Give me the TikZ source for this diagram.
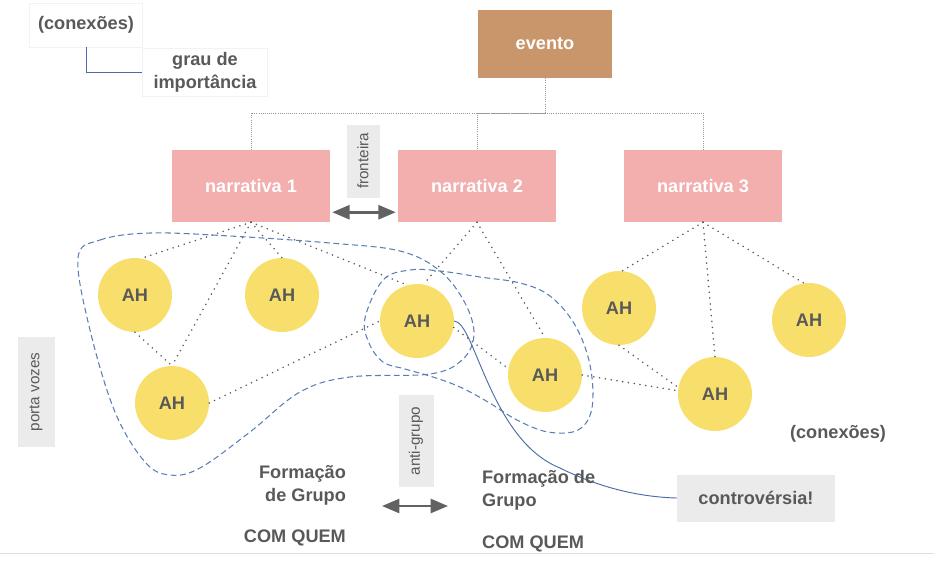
\documentclass[tikz,border=0pt]{standalone}
\usepackage{fontspec}
\setmainfont{Liberation Sans}
\usetikzlibrary{arrows.meta,calc}

\definecolor{eventbrown}{HTML}{C9956A}
\definecolor{narrpink}{HTML}{F3AEAE}
\definecolor{ahyellow}{HTML}{F8DF6C}
\definecolor{labelgray}{HTML}{EBEBEB}
\definecolor{textgray}{HTML}{595959}
\definecolor{arrowgray}{HTML}{626262}
\definecolor{groupblue}{HTML}{5A7DB5}
\definecolor{linkblue}{HTML}{4A6DA7}

\begin{document}
\begin{tikzpicture}[x=0.3mm,y=-0.3mm,
    every node/.style={font=\fontsize{15.5}{19.5}\selectfont\bfseries, text=textgray},
    narr/.style={fill=narrpink, text=white, minimum width=4.74cm, minimum height=2.16cm},
    ah/.style={circle, fill=ahyellow, minimum size=2.22cm, inner sep=0pt},
    sidelabel/.style={fill=labelgray, rotate=90, inner sep=2pt,
        font=\fontsize{13}{15}\selectfont},
    keybox/.style={draw=black!5, fill=white, align=center},
    tree/.style={black!40, line width=0.6pt, dash pattern=on 0.6pt off 1.2pt},
    conn/.style={black!65, line width=1.5pt, dash pattern=on 0pt off 5pt, line cap=round},
    group/.style={groupblue, line width=0.9pt, dash pattern=on 5pt off 3pt},
    bigarrow/.style={arrowgray, line width=2.2pt, {Triangle[length=5.2mm,width=4.2mm]}-{Triangle[length=5.2mm,width=4.2mm]}}
]
    \useasboundingbox (0,0) rectangle (934,560);

    % Legend
    \node[keybox, minimum width=3.39cm, minimum height=1.32cm] (leg1) at (86,25) {(conexões)};
    \node[keybox, minimum width=3.75cm, minimum height=1.41cm] (leg2) at (205,72) {grau de\\importância};
    \draw[linkblue, line width=0.8pt] (leg1.south) |- (leg2.west);

    % Event and narratives
    \node[fill=eventbrown, text=white, minimum width=4.02cm, minimum height=2.04cm] (ev) at (545,44) {evento};
    \node[narr] (n1) at (251,186) {narrativa 1};
    \node[narr] (n2) at (477,186) {narrativa 2};
    \node[narr] (n3) at (703,186) {narrativa 3};
    \coordinate (bus) at (545,113);
    \draw[tree] (ev.south) -- (bus) -| (n1.north);
    \draw[tree] (bus) -| (n2.north);
    \draw[tree] (bus) -| (n3.north);

    % Border between narratives
    \node[sidelabel, minimum width=2.19cm, minimum height=0.99cm] (front) at (363,161) {fronteira};
    \draw[bigarrow] ($(n1.south east)+(2,-10)$) -- ($(n2.south west)+(-2,-10)$);

    % Actors
    \node[ah] (ah1) at (135,295) {AH};
    \node[ah] (ah2) at (282,295) {AH};
    \node[ah] (ah3) at (417,321) {AH};
    \node[ah] (ah4) at (545,375) {AH};
    \node[ah] (ah5) at (172,403) {AH};
    \node[ah] (ah6) at (619,308) {AH};
    \node[ah] (ah7) at (715,394) {AH};
    \node[ah] (ah8) at (809,320) {AH};

    % Connections
    \draw[conn] (n1.south) -- (ah1.80);
    \draw[conn] (n1.south) -- (ah2.north);
    \draw[conn] (n1.south) -- (ah5.north);
    \draw[conn] (n1.south) -- (ah3.105);
    \draw[conn] (ah1.south) -- (ah5.north);
    \draw[conn] (ah5.east) -- (ah3.west);
    \draw[conn] (n2.south) -- (ah3.80);
    \draw[conn] (n2.south) -- (ah4.north);
    \draw[conn] (ah3.-10) -- (ah4.170);
    \draw[conn] (ah4.east) -- (ah7.175);
    \draw[conn] (n3.south) -- (ah6.85);
    \draw[conn] (n3.south) -- (ah7.north);
    \draw[conn] (n3.south) -- (ah8.98);
    \draw[conn] (ah6.south) -- (ah7.170);

    % Groups
    \draw[group] plot[smooth cycle, tension=0.6] coordinates {(78,258) (100,240) (150,233) (230,236) (330,243) (400,251) (440,271) (465,303) (474,335) (462,360) (430,374) (350,377) (300,392) (250,432) (200,468) (170,475) (145,462) (115,412) (90,330)};
    \draw[group] plot[smooth cycle, tension=0.6] coordinates {(383,280) (410,270) (440,271) (480,277) (520,283) (550,296) (575,325) (590,365) (592,408) (578,430) (548,432) (517,420) (488,402) (460,387) (433,377) (405,369) (383,362) (369,343) (365,318)};

    % Spokespeople
    \node[sidelabel, minimum width=3.3cm, minimum height=1.11cm] (porta) at (36,392) {porta vozes};

    % Controversy
    \node[fill=labelgray, minimum width=4.74cm, minimum height=1.41cm] (contr) at (756,498) {controvérsia!};
    \draw[linkblue, line width=0.8pt] (ah3.east) .. controls (475,322) and (490,440) .. (560,468) .. controls (600,488) and (640,497) .. (contr.west);
    \node (conx) at (838,434) {(conexões)};

    % Group formation
    \node[align=right, anchor=east] (fg1) at (350,485) {Formação\\de Grupo};
    \node[align=left, anchor=west] (fg2) at (478,490) {Formação de\\Grupo};
    \node[anchor=east] (cq1) at (350,538) {COM QUEM};
    \node[anchor=west] (cq2) at (478,544) {COM QUEM};
    \node[sidelabel, minimum width=2.76cm, minimum height=1.05cm] (anti) at (416,441) {anti-grupo};
    \coordinate (ag1) at (382,506);
    \coordinate (ag2) at (448,506);
    \draw[bigarrow] (ag1) -- (ag2);

    % Base line
    \draw[black!12, line width=0.8pt] (0,553) -- (934,553);
\end{tikzpicture}
\end{document}
